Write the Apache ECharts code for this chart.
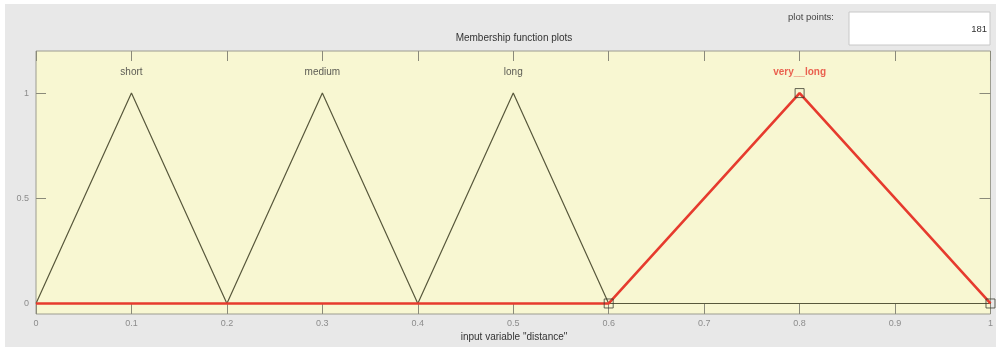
<!DOCTYPE html>
<html>
<head>
<meta charset="utf-8">
<script src="https://cdn.jsdelivr.net/npm/echarts@6/dist/echarts.min.js"></script>
<style>
  html, body { margin: 0; padding: 0; background: #ffffff; }
  #chart { width: 996px; height: 350px; }
</style>
</head>
<body>
<div id="chart"></div>
<script>
// Triangular membership functions of the input variable "distance"
const mfNames = ['short', 'medium', 'long', 'very__long'];
const shortX = [0, 0.1, 0.2, 1];
const shortY = [0, 1, 0, 0];
const mediumX = [0, 0.2, 0.3, 0.4, 1];
const mediumY = [0, 0, 1, 0, 0];
const longX = [0, 0.4, 0.5, 0.6, 1];
const longY = [0, 0, 1, 0, 0];
const veryLongX = [0, 0.6, 0.8, 1];
const veryLongY = [0, 0, 1, 0];
// peak position of each function (where its name is written)
const peakX = [0.1, 0.3, 0.5, 0.8];
// vertices of the selected function, marked with squares
const vertexX = [0.6, 0.8, 1];
const vertexY = [0, 1, 0];
const xTicks = [0, 0.1, 0.2, 0.3, 0.4, 0.5, 0.6, 0.7, 0.8, 0.9, 1];
const yTicks = [0, 0.5, 1];
const plotPoints = 181;

const zip = (xs, ys) => xs.map((x, i) => [x, ys[i]]);

const dark = '#58583c';
const red = '#e63b2e';
const tickGray = '#8c8c8c';
const tickLine = { color: '#8a8a7a', width: 1 };
const font = 'Liberation Sans, Arial, sans-serif';

const chart = echarts.init(document.getElementById('chart'), null, { renderer: 'canvas' });

const darkLine = (xs, ys) => ({
  type: 'line', data: zip(xs, ys), symbol: 'none', silent: true,
  lineStyle: { color: dark, width: 1.2 }, z: 3
});

chart.setOption({
  animation: false,
  backgroundColor: '#ffffff',
  graphic: [
    { type: 'rect', shape: { x: 5, y: 4, width: 991, height: 343 }, style: { fill: '#e8e8e8' }, z: -10 },
    { type: 'text', x: 834, y: 17, style: { text: 'plot points:', font: '9.5px ' + font, fill: '#444', align: 'right', verticalAlign: 'middle' } },
    { type: 'rect', shape: { x: 849, y: 12, width: 141, height: 33 }, style: { fill: '#ffffff', stroke: '#c8c8c8', lineWidth: 1 } },
    { type: 'text', x: 987, y: 29, style: { text: String(plotPoints), font: '9.5px ' + font, fill: '#333', align: 'right', verticalAlign: 'middle' } },
    { type: 'text', x: 514, y: 38, style: { text: 'Membership function plots', font: '10px ' + font, fill: '#333', align: 'center', verticalAlign: 'middle' } },
    { type: 'text', x: 514, y: 337, style: { text: 'input variable "distance"', font: '10px ' + font, fill: '#333', align: 'center', verticalAlign: 'middle' } }
  ],
  grid: {
    left: 36, top: 51, right: 3, bottom: 36,
    show: true, backgroundColor: '#f8f7d2', borderColor: '#9c9c90', borderWidth: 1
  },
  xAxis: [
    {
      type: 'value', min: 0, max: 1, interval: 0.1, position: 'bottom',
      axisLine: { show: false, onZero: false },
      splitLine: { show: false },
      axisTick: { show: true, inside: true, length: 11, lineStyle: tickLine },
      axisLabel: { color: tickGray, fontSize: 9, fontFamily: font, margin: 5,
        customValues: xTicks, formatter: v => String(v) }
    },
    {
      type: 'value', min: 0, max: 1, interval: 0.1, position: 'top',
      axisLine: { show: false, onZero: false }, splitLine: { show: false },
      axisTick: { show: true, inside: true, length: 10, lineStyle: tickLine },
      axisLabel: { show: false }
    }
  ],
  yAxis: [
    {
      type: 'value', min: -0.05, max: 1.2, position: 'left',
      axisLine: { show: false, onZero: false }, splitLine: { show: false },
      axisTick: { show: true, inside: true, length: 10, customValues: yTicks, lineStyle: tickLine },
      axisLabel: { color: tickGray, fontSize: 9, fontFamily: font, margin: 7,
        customValues: yTicks, formatter: v => String(v) }
    },
    {
      type: 'value', min: -0.05, max: 1.2, position: 'right',
      axisLine: { show: false, onZero: false }, splitLine: { show: false },
      axisTick: { show: true, inside: true, length: 11, customValues: yTicks, lineStyle: tickLine },
      axisLabel: { show: false }
    }
  ],
  series: [
    darkLine(shortX, shortY),
    darkLine(mediumX, mediumY),
    darkLine(longX, longY),
    {
      type: 'line', data: zip(veryLongX, veryLongY), symbol: 'none', silent: true,
      lineStyle: { color: red, width: 2.6 }, z: 4
    },
    {
      type: 'scatter', data: zip(vertexX, vertexY), symbol: 'rect', symbolSize: 9,
      itemStyle: { color: 'rgba(0,0,0,0)', borderColor: '#3c3c30', borderWidth: 1 },
      silent: true, z: 5, clip: true
    },
    {
      type: 'scatter', symbolSize: 0, silent: true, z: 6,
      data: mfNames.map((n, i) => ({
        value: [peakX[i], 1.1], name: n,
        label: i === 3 ? { color: red, fontWeight: 'bold' } : {}
      })),
      label: {
        show: true, position: 'inside', formatter: p => p.name,
        color: '#333', fontSize: 10, fontFamily: font
      }
    }
  ]
});
</script>
</body>
</html>
